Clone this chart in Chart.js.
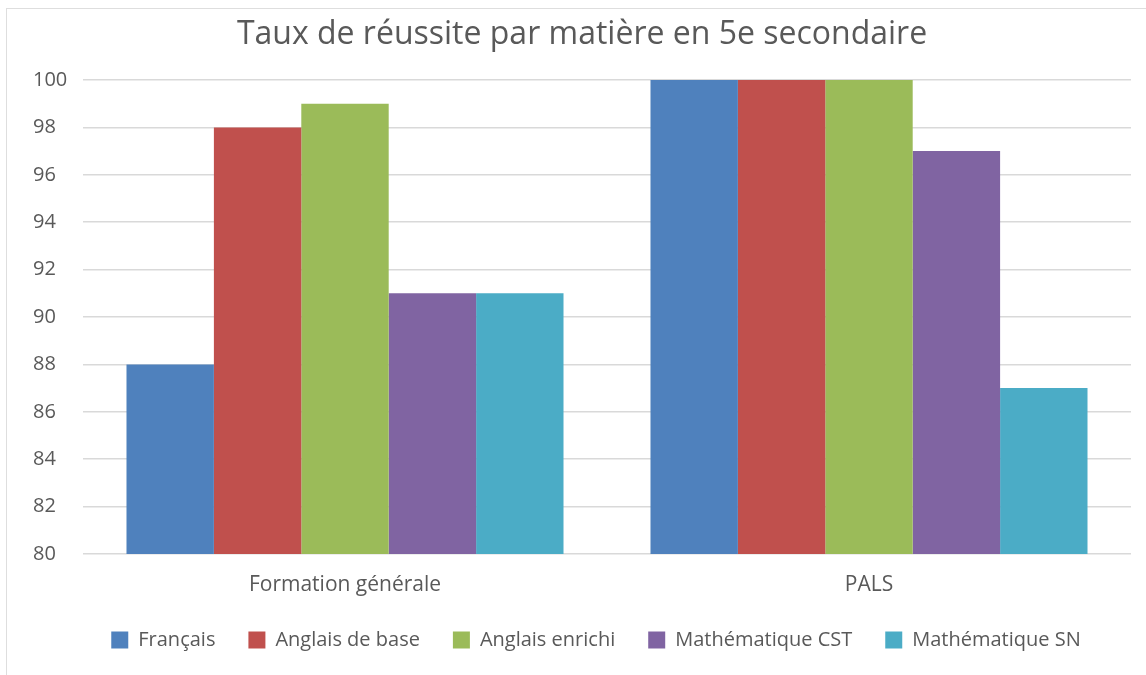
<!DOCTYPE html>
<html>
<head>
<meta charset="utf-8">
<script src="https://cdn.jsdelivr.net/npm/chart.js@4.4.0/dist/chart.umd.min.js"></script>
<style>
  html, body { margin: 0; padding: 0; background: #fff; }
  #frame { position: absolute; left: 6px; top: 8px; width: 1160px; height: 700px; border: 1px solid #dedede; box-sizing: border-box; }
  #wrap { position: absolute; left: 0; top: 0; width: 1146px; height: 675px; }
</style>
</head>
<body>
<div id="frame"></div>
<div id="wrap"><canvas id="c" width="1146" height="675"></canvas></div>
<script>
const categories = ["Formation générale", "PALS"];
const seriesNames = ["Français", "Anglais de base", "Anglais enrichi", "Mathématique CST", "Mathématique SN"];
const francais = [88, 100];
const anglaisBase = [98, 100];
const anglaisEnrichi = [99, 100];
const mathCST = [91, 97];
const mathSN = [91, 87];
const colors = ["#4f81bd", "#c0504d", "#9bbb59", "#8064a2", "#4bacc6"];

const values = [francais, anglaisBase, anglaisEnrichi, mathCST, mathSN];
const FONT = "'Open Sans', 'Noto Sans', sans-serif";
const TXT = "#595959";

const legendShift = {
  id: 'legendShift',
  afterLayout(chart) {
    if (chart.legend) { chart.legend.left += 14; chart.legend.right += 14; }
  }
};

new Chart(document.getElementById('c'), {
  type: 'bar',
  data: {
    labels: categories,
    datasets: seriesNames.map((n, i) => ({
      label: n,
      data: values[i],
      backgroundColor: colors[i],
      borderWidth: 0,
      categoryPercentage: 0.834,
      barPercentage: 1.0
    }))
  },
  plugins: [legendShift],
  options: {
    responsive: false,
    animation: false,
    devicePixelRatio: 1,
    layout: { padding: { left: 33, right: 15, top: 0, bottom: 15 } },
    plugins: {
      title: {
        display: true,
        text: "Taux de réussite par matière en 5e secondaire",
        color: TXT,
        font: { family: FONT, size: 32, weight: 'normal' },
        padding: { top: 16, bottom: 25.6 }
      },
      legend: {
        position: 'bottom',
        labels: {
          color: TXT,
          font: { family: FONT, size: 20 },
          boxWidth: 17,
          boxHeight: 17,
          padding: 33
        }
      },
      tooltip: { enabled: false }
    },
    scales: {
      x: {
        grid: { display: false, drawTicks: false },
        border: { display: false },
        ticks: { color: TXT, font: { family: FONT, size: 21 }, padding: 18 },
        afterFit: (s) => { s.height = 43; }
      },
      y: {
        min: 80,
        max: 100,
        grid: { color: "#d9d9d9", lineWidth: 1.5, drawTicks: false },
        border: { display: false },
        ticks: { stepSize: 2, color: TXT, font: { family: FONT, size: 20 }, crossAlign: 'far', padding: 10 },
        afterFit: (s) => { s.width = 50; }
      }
    }
  }
});
</script>
</body>
</html>
